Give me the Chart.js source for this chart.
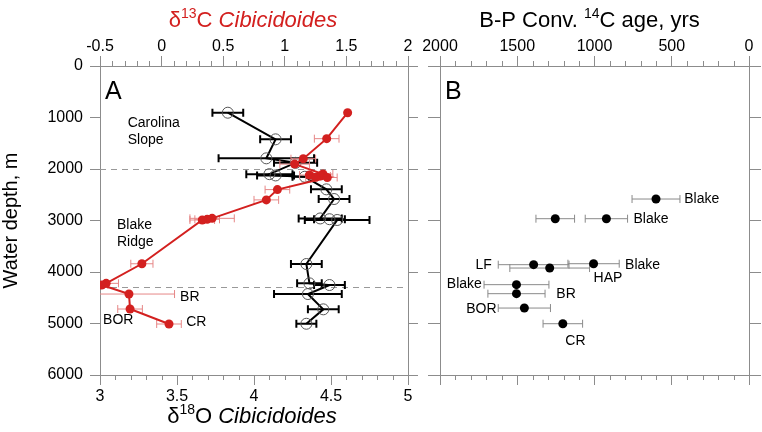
<html>
<head>
<title>Water depth profiles</title>
<script src="https://cdn.jsdelivr.net/npm/chart.js@4/dist/chart.umd.min.js"></script>
<style>
    body,html{ margin:0; padding:0; background:#fff; }
    #boxA{ position:absolute; left:0; top:0; }
    #boxB{ position:absolute; left:420px; top:0; }
</style>
</head>
<body>
<canvas id="boxA" width="420" height="432"></canvas>
<canvas id="boxB" width="342" height="432"></canvas>
<script>
// ---- panel A: benthic isotopes vs depth ----
let depthO18 = [907, 1424, 1793, 1880, 2100, 2125, 2150, 2395, 2583, 2960, 2975, 2990, 3845, 4220, 4253, 4428, 4725, 5005];
let valO18   = [3.83, 4.14, 4.08, 4.27, 4.10, 4.14, 4.33, 4.47, 4.52, 4.43, 4.49, 4.54, 4.34, 4.36, 4.49, 4.35, 4.45, 4.34];
let errO18   = [0.10, 0.10, 0.31, 0.14, 0.15, 0.12, 0.08, 0.10, 0.10, 0.14, 0.10, 0.21, 0.10, 0.08, 0.10, 0.22, 0.10, 0.065];

let depthC13 = [907, 1411, 1800, 1905, 2097, 2117, 2136, 2160, 2165, 2400, 2600, 2958, 2977, 2990, 3840, 4220, 4253, 4428, 4719, 5010];
let valC13   = [1.51, 1.34, 1.15, 1.08, 1.31, 1.20, 1.29, 1.25, 1.345, 0.94, 0.85, 0.41, 0.37, 0.33, -0.16, -0.45, -0.486, -0.265, -0.256, 0.06];
let errC13   = [0, 0.10, 0.10, 0.12, 0.08, 0.08, 0.08, 0.08, 0.08, 0.10, 0.10, 0.18, 0.10, 0.10, 0.09, 0.10, 0.05, 0.37, 0.10, 0.10];

let boundaryDepths = [2000, 4300];

let labelTextA  = ['Carolina', 'Slope', 'Blake', 'Ridge', 'BR', 'BOR', 'CR'];
let labelO18A   = [3.18, 3.18, 3.11, 3.11, 3.52, 3.02, 3.56];
let labelDepthA = [1107, 1437, 3088, 3412, 4480, 4932, 4965];

// ---- panel B: conventional 14C age (B-P) ----
let depthAge = [2583, 2965, 2965, 3858, 3923, 3839, 4246, 4421, 4700, 5004];
let ageVal   = [602, 1254, 923, 1394, 1290, 1006, 1505, 1505, 1454, 1205];
let ageErr   = [155, 125, 137, 229, 258, 166, 210, 185, 169, 128];

let labelTextB  = ['Blake', 'Blake', 'LF', 'Blake', 'HAP', 'Blake', 'BR', 'BOR', 'CR'];
let labelAgeB   = [419, 748, 1665, 802, 1006, 1729, 1247, 1634, 1189];
let labelDepthB = [2583, 2971, 3864, 3864, 4117, 4239, 4433, 4718, 5340];
let labelAlignB = ['left', 'left', 'right', 'left', 'left', 'right', 'left', 'right', 'left'];

const FONT = '"Liberation Sans", Arial, Helvetica, sans-serif';
const FRAME = '#8c8c8c';
const RED = '#d3201f';

function makeAxis(o) {
    let horiz = o.position === 'top' || o.position === 'bottom';
    return {
        type: 'linear',
        position: o.position,
        min: o.min, max: o.max,
        reverse: !!o.reverse,
        afterFit: s => { if (horiz) s.height = o.size; else s.width = o.size; },
        ticks: {
            display: o.labels,
            stepSize: o.step,
            padding: o.pad || 0,
            color: '#000',
            font: { family: FONT, size: 16 },
            maxRotation: 0,
            autoSkip: false,
            callback: v => String(v)
        },
        grid: { drawOnChartArea: false, tickLength: o.tick || 10, tickColor: FRAME, tickWidth: 1 },
        border: { display: true, color: FRAME, width: 1 }
    };
}

// horizontal error bars, drawn under each dataset
const errorBars = {
    id: 'errorBars',
    beforeDatasetDraw(chart, args) {
        let ds = chart.data.datasets[args.index];
        if (!ds.err) return;
        let xs = chart.scales[args.meta.xAxisID], ys = chart.scales[args.meta.yAxisID];
        let ctx = chart.ctx, a = chart.chartArea;
        ctx.save();
        ctx.beginPath(); ctx.rect(a.left, a.top, a.right - a.left, a.bottom - a.top); ctx.clip();
        ctx.strokeStyle = ds.errColor;
        ctx.lineWidth = ds.errWidth;
        ds.data.forEach((p, i) => {
            let e = ds.err[i];
            if (!e) return;
            let x0 = xs.getPixelForValue(p.x - e), x1 = xs.getPixelForValue(p.x + e), y = ys.getPixelForValue(p.y);
            ctx.beginPath();
            ctx.moveTo(x0, y); ctx.lineTo(x1, y);
            ctx.moveTo(x0, y - ds.cap); ctx.lineTo(x0, y + ds.cap);
            ctx.moveTo(x1, y - ds.cap); ctx.lineTo(x1, y + ds.cap);
            ctx.stroke();
        });
        ctx.restore();
    }
};

// short minor ticks between the labelled ones
const minorTicks = {
    id: 'minorTicks',
    afterDraw(chart, args, opts) {
        let ctx = chart.ctx;
        ctx.save();
        ctx.strokeStyle = FRAME;
        ctx.lineWidth = 1;
        (opts.list || []).forEach(m => {
            let s = chart.scales[m.axis];
            let n = Math.round((s.max - s.min) / m.step);
            for (let i = 0; i <= n; i++) {
                let v = s.min + i * m.step;
                let r = v / m.major;
                if (Math.abs(r - Math.round(r)) < 1e-6) continue;
                let x = Math.round(s.getPixelForValue(v)) + 0.5;
                ctx.beginPath();
                if (s.position === 'top') { ctx.moveTo(x, s.bottom); ctx.lineTo(x, s.bottom - 5); }
                else { ctx.moveTo(x, s.top); ctx.lineTo(x, s.top + 5); }
                ctx.stroke();
            }
        });
        ctx.restore();
    }
};

function drawRich(ctx, parts, x, y) {
    let w = 0;
    parts.forEach(p => { ctx.font = p[1]; w += ctx.measureText(p[0]).width; });
    let cx = x - w / 2;
    parts.forEach(p => {
        ctx.font = p[1];
        ctx.fillText(p[0], cx, y + (p[2] || 0));
        cx += ctx.measureText(p[0]).width;
    });
}

function drawLabels(chart, xId, texts, xv, yv, aligns) {
    let ctx = chart.ctx, xs = chart.scales[xId], ys = chart.scales.y;
    ctx.save();
    ctx.fillStyle = '#000';
    ctx.font = '14px ' + FONT;
    ctx.textBaseline = 'middle';
    texts.forEach((t, i) => {
        ctx.textAlign = aligns ? aligns[i] : 'left';
        ctx.fillText(t, xs.getPixelForValue(xv[i]), ys.getPixelForValue(yv[i]));
    });
    ctx.restore();
}

function panelLetter(chart, letter) {
    let ctx = chart.ctx, a = chart.chartArea;
    ctx.save();
    ctx.fillStyle = '#000';
    ctx.font = '25px ' + FONT;
    ctx.textBaseline = 'alphabetic';
    ctx.fillText(letter, a.left + 5, a.top + 33);
    ctx.restore();
}

const BIG = '22px ' + FONT, SUP = '14px ' + FONT;

const decorA = {
    id: 'decorA',
    beforeDatasetsDraw(chart) {
        let ctx = chart.ctx, a = chart.chartArea, ys = chart.scales.y;
        ctx.save();
        ctx.strokeStyle = '#999';
        ctx.lineWidth = 1;
        ctx.setLineDash([6, 5]);
        boundaryDepths.forEach(d => {
            let y = Math.round(ys.getPixelForValue(d)) + 0.5;
            ctx.beginPath(); ctx.moveTo(a.left, y); ctx.lineTo(a.right, y); ctx.stroke();
        });
        ctx.restore();
    },
    afterDraw(chart) {
        let ctx = chart.ctx, a = chart.chartArea;
        let cx = (a.left + a.right) / 2;
        drawLabels(chart, 'x', labelTextA, labelO18A, labelDepthA);
        panelLetter(chart, 'A');
        ctx.save();
        ctx.textBaseline = 'alphabetic';
        ctx.fillStyle = RED;
        drawRich(ctx, [['δ', BIG], ['13', SUP, -9], ['C ', BIG], ['Cibicidoides', 'italic ' + BIG]], cx - 1, 27);
        ctx.fillStyle = '#000';
        drawRich(ctx, [['δ', BIG], ['18', SUP, -9], ['O ', BIG], ['Cibicidoides', 'italic ' + BIG]], cx - 2, 423);
        ctx.translate(17, (a.top + a.bottom) / 2);
        ctx.rotate(-Math.PI / 2);
        drawRich(ctx, [['Water depth, m', '20px ' + FONT]], 0, 0);
        ctx.restore();
    }
};

const decorB = {
    id: 'decorB',
    afterDraw(chart) {
        let ctx = chart.ctx, a = chart.chartArea;
        drawLabels(chart, 'x', labelTextB, labelAgeB, labelDepthB, labelAlignB);
        panelLetter(chart, 'B');
        ctx.save();
        ctx.textBaseline = 'alphabetic';
        ctx.fillStyle = '#000';
        drawRich(ctx, [['B-P Conv. ', BIG], ['14', SUP, -9], ['C age, yrs', BIG]], (a.left + a.right) / 2 - 5, 27);
        ctx.restore();
    }
};

let ptsO18 = depthO18.map((d, i) => ({ x: valO18[i], y: d }));
let ptsC13 = depthC13.map((d, i) => ({ x: valC13[i], y: d }));
let ptsAge = depthAge.map((d, i) => ({ x: ageVal[i], y: d }));

let commonPlugins = { legend: { display: false }, tooltip: { enabled: false } };

new Chart(document.getElementById('boxA').getContext('2d'), {
    type: 'scatter',
    data: {
        datasets: [
            {
                label: 'd13C', data: ptsC13, xAxisID: 'x2', yAxisID: 'y', showLine: true,
                borderColor: RED, borderWidth: 2,
                pointRadius: 4.5, pointBackgroundColor: RED, pointBorderColor: RED, pointBorderWidth: 0,
                err: errC13, errColor: 'rgba(230,135,135,1)', errWidth: 1, cap: 4
            },
            {
                label: 'd18O', data: ptsO18, xAxisID: 'x', yAxisID: 'y', showLine: true,
                borderColor: '#000', borderWidth: 2,
                pointRadius: 5.5, pointBackgroundColor: 'rgba(0,0,0,0)', pointBorderColor: '#555', pointBorderWidth: 1,
                err: errO18, errColor: '#000', errWidth: 2, cap: 4
            }
        ]
    },
    options: {
        responsive: false, animation: false, devicePixelRatio: 1,
        layout: { padding: 0 },
        scales: {
            x:  makeAxis({ position: 'bottom', min: 3, max: 5, step: 0.5, labels: true, size: 57, pad: 2 }),
            x2: makeAxis({ position: 'top', min: -0.5, max: 2, step: 0.5, labels: true, size: 66, pad: 0 }),
            y:  makeAxis({ position: 'left', min: 0, max: 6000, step: 1000, labels: true, size: 100, pad: 7, reverse: true }),
            y2: makeAxis({ position: 'right', min: 0, max: 6000, step: 1000, labels: false, size: 12, reverse: true })
        },
        plugins: Object.assign({
            minorTicks: { list: [{ axis: 'x', step: 0.1, major: 0.5 }, { axis: 'x2', step: 0.1, major: 0.5 }] }
        }, commonPlugins)
    },
    plugins: [errorBars, minorTicks, decorA]
});

new Chart(document.getElementById('boxB').getContext('2d'), {
    type: 'scatter',
    data: {
        datasets: [
            {
                label: 'age', data: ptsAge, xAxisID: 'x', yAxisID: 'y', showLine: false,
                pointRadius: 4.5, pointBackgroundColor: '#000', pointBorderColor: '#000', pointBorderWidth: 0,
                err: ageErr, errColor: '#8a8a8a', errWidth: 1, cap: 4
            }
        ]
    },
    options: {
        responsive: false, animation: false, devicePixelRatio: 1,
        layout: { padding: 0 },
        scales: {
            x:  makeAxis({ position: 'top', min: 0, max: 2000, step: 500, labels: true, size: 66, pad: 0, reverse: true }),
            xb: makeAxis({ position: 'bottom', min: 0, max: 2000, step: 500, labels: false, size: 57, reverse: true }),
            y:  makeAxis({ position: 'left', min: 0, max: 6000, step: 1000, labels: false, size: 20, reverse: true, tick: 12 }),
            y2: makeAxis({ position: 'right', min: 0, max: 6000, step: 1000, labels: false, size: 13, reverse: true, tick: 12 })
        },
        plugins: Object.assign({
            minorTicks: { list: [{ axis: 'x', step: 100, major: 500 }, { axis: 'xb', step: 100, major: 500 }] }
        }, commonPlugins)
    },
    plugins: [errorBars, minorTicks, decorB]
});
</script>
</body>
</html>
